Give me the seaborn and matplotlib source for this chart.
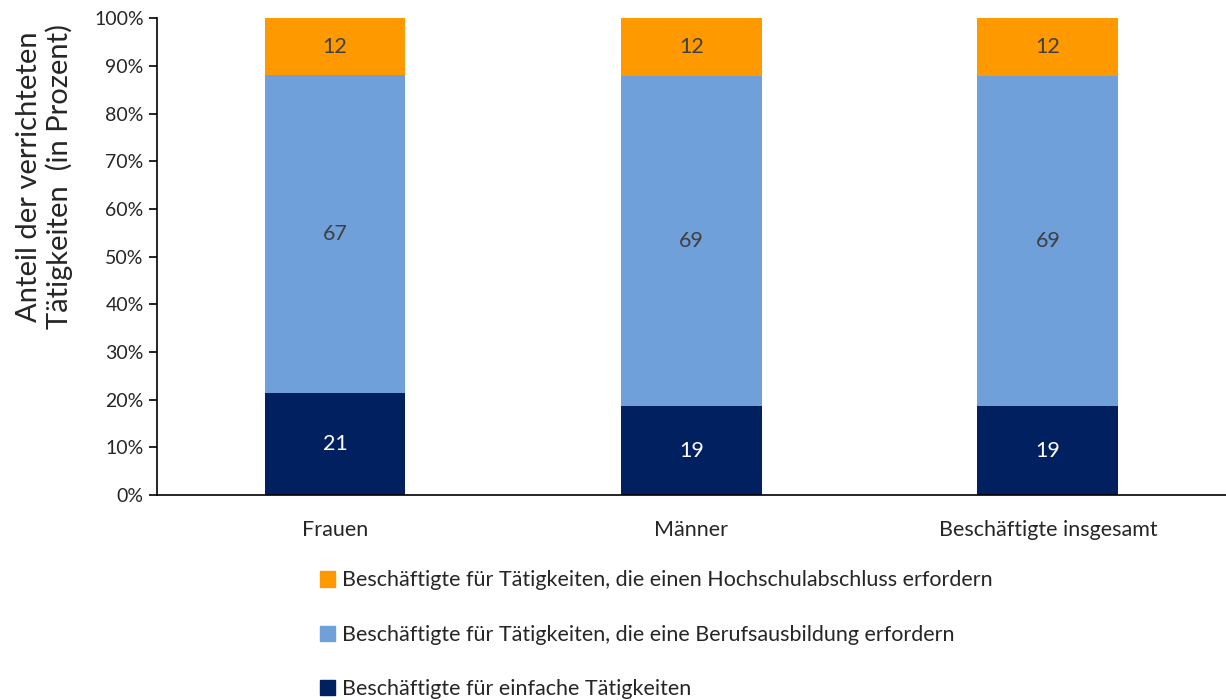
import numpy as np
import pandas as pd
import seaborn as sns
import matplotlib.pyplot as plt
from matplotlib.patches import Patch

# values (percent)
categories = ['Frauen', 'Männer', 'Beschäftigte insgesamt']
einfach = [21.3, 18.6, 18.6]
beruf = [66.8, 69.3, 69.3]
hochschule = [11.9, 12.1, 12.1]
labels_einfach = ['21', '19', '19']
labels_beruf = ['67', '69', '69']
labels_hochschule = ['12', '12', '12']
legend_labels = [
    'Beschäftigte für Tätigkeiten, die einen Hochschulabschluss erfordern',
    'Beschäftigte für Tätigkeiten, die eine Berufsausbildung erfordern',
    'Beschäftigte für einfache Tätigkeiten',
]

c_dark = '#002060'
c_blue = '#6FA0DA'
c_orange = '#FF9900'

sns.set_style('white')
plt.rcParams['font.family'] = ['Lato', 'DejaVu Sans']

df = pd.DataFrame({'cat': categories, 'einfach': einfach, 'beruf': beruf, 'hoch': hochschule})
df['cum1'] = df['einfach']
df['cum2'] = df['einfach'] + df['beruf']
df['cum3'] = df['cum2'] + df['hoch']

fig = plt.figure(figsize=(12.26, 7), dpi=100)
ax = fig.add_axes([0.128, 0.293, 0.872, 0.681])

# stacked by overlaying cumulative bars
sns.barplot(data=df, x='cat', y='cum3', color=c_orange, width=0.395, saturation=1, linewidth=0, ax=ax)
sns.barplot(data=df, x='cat', y='cum2', color=c_blue, width=0.395, saturation=1, linewidth=0, ax=ax)
sns.barplot(data=df, x='cat', y='cum1', color=c_dark, width=0.395, saturation=1, linewidth=0, ax=ax)

fs = 15.5
for i in range(len(df)):
    ax.text(i, df['einfach'][i] / 2, labels_einfach[i], ha='center', va='center',
            color='white', fontsize=fs)
    ax.text(i, df['cum1'][i] + df['beruf'][i] / 2, labels_beruf[i], ha='center', va='center',
            color='#404040', fontsize=fs)
    ax.text(i, df['cum2'][i] + df['hoch'][i] / 2, labels_hochschule[i], ha='center', va='center',
            color='#404040', fontsize=fs)

ax.set_xlim(-0.5, 2.5)
ax.set_ylim(0, 100)
ax.set_yticks(np.arange(0, 101, 10))
ax.set_yticklabels([f'{v}%' for v in range(0, 101, 10)], fontsize=14)
ax.set_xticks(range(3))
ax.set_xticklabels(categories, fontsize=fs)
ax.tick_params(axis='x', which='major', length=0, pad=18)
ax.set_xticks([-0.5, 0.5, 1.5, 2.5], minor=True)
ax.tick_params(axis='x', which='minor', length=7, width=1.2, direction='out', color='black')
ax.tick_params(axis='y', length=6, width=1.2, direction='out', color='black', left=True)
ax.set_xlabel('')
ax.set_ylabel('')
sns.despine(ax=ax, top=True, right=True)
for s in ['left', 'bottom']:
    ax.spines[s].set_color('black')
    ax.spines[s].set_linewidth(1.2)

fig.text(0.036, 0.748, 'Anteil der verrichteten\nTätigkeiten  (in Prozent)', rotation=90,
         ha='center', va='center', fontsize=21, linespacing=1.15)

handles = [Patch(color=c_orange), Patch(color=c_blue), Patch(color=c_dark)]
fig.legend(handles, legend_labels, loc='upper left', bbox_to_anchor=(0.261, 0.185),
           frameon=False, fontsize=fs, handlelength=0.7, handleheight=0.7,
           handletextpad=0.3, labelspacing=1.6, borderaxespad=0, borderpad=0)

fig.savefig('out.png', dpi=100)
